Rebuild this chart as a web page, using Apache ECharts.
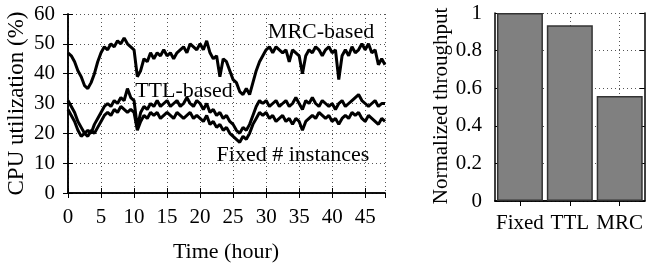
<!DOCTYPE html>
<html><head><meta charset="utf-8">
<script src="https://cdn.jsdelivr.net/npm/echarts@6/dist/echarts.min.js"></script>
<style>html,body{margin:0;padding:0;background:#fff}#c{width:646px;height:265px}</style>
</head><body><div id="c"></div>
<script>
// Left chart: CPU utilization sampled every half hour, 0..48 h
const stepHours = 0.5;
const mrc = [47,46,44,41,39,36,35,37,40,44,47,49,48,50,49,51,50,52,50,49,48,39,41,45,44,47,45,47,46,48,46,47,45,47,48,49,47,50,49,48,50,48,51,47,45,46,39,45,44,41,38,37,34,33,35,33,37,41,44,46,48,49,47,49,48,47,48,44,48,47,46,40,46,48,47,49,48,46,48,49,47,48,38,46,48,46,49,47,48,50,48,50,47,48,43,45,43];
const ttl = [31,29,27,24,22,20,21,20,23,25,27,29,30,29,31,30,32,31,35,32,31,22,27,29,28,30,29,31,29,30,31,29,30,31,29,30,32,30,29,31,30,28,30,27,28,26,27,25,26,24,23,21,20,22,21,23,26,29,31,30,31,29,30,31,29,30,31,29,30,32,30,28,31,30,32,30,29,31,30,29,30,28,30,31,29,30,31,32,33,31,30,29,30,31,29,30,30];
const fixed = [28,26,24,21,19,20,19,21,20,22,24,26,27,26,28,27,29,28,27,28,27,21,24,26,25,27,26,27,25,26,27,26,25,27,26,25,26,27,25,26,25,24,26,23,24,22,23,21,22,20,19,18,17,19,18,20,23,25,27,26,27,25,26,24,25,26,24,25,23,25,24,21,24,25,26,25,27,26,25,26,24,25,23,25,26,25,27,26,27,25,24,26,25,24,23,25,24];
// Right chart
const schemes = ['Fixed','TTL','MRC'];
const throughput = [1.0, 0.935, 0.558];

const pair = arr => arr.map((v,i)=>[i*stepHours, v]);
// helper axis with half-category slots, so grid lines can sit on category centres
const halfSlots = ['', ...schemes.flatMap(s=>[s, ''])];
const FONT = 'Liberation Serif';
const tickStyle = {show:true, inside:true, length:5, lineStyle:{color:'#000', width:1}};
const gridLine = {show:true, lineStyle:{color:'#555', type:[1,3], width:1}};
const axLine = {show:true, lineStyle:{color:'#000', width:1.5}};

const chart = echarts.init(document.getElementById('c'), null, {renderer:'canvas'});
chart.setOption({
  animation:false,
  backgroundColor:'#fff',
  textStyle:{fontFamily:FONT},
  grid:[
    {left:68, top:14, width:317, height:179, show:false},
    {left:495, top:13, width:150, height:188, show:false}
  ],
  xAxis:[
    {type:'value', gridIndex:0, min:0, max:48, interval:5, axisLine:axLine, axisTick:tickStyle,
     axisLabel:{fontFamily:FONT, fontSize:21, color:'#000', margin:14, showMaxLabel:false}, splitLine:gridLine},
    {type:'value', gridIndex:0, position:'top', min:0, max:48, interval:5, axisLine:axLine, axisTick:tickStyle,
     axisLabel:{show:false}, splitLine:{show:false}},
    {type:'category', gridIndex:1, data:schemes, axisLine:axLine,
     axisTick:Object.assign({}, tickStyle, {alignWithLabel:true}),
     axisLabel:{fontFamily:FONT, fontSize:21, color:'#000', margin:12, interval:0},
     splitLine:{show:false}},
    {type:'category', gridIndex:1, position:'top', data:schemes, axisLine:axLine,
     axisTick:Object.assign({}, tickStyle, {alignWithLabel:true}), axisLabel:{show:false}, splitLine:{show:false}},
    {type:'category', gridIndex:1, data:halfSlots, boundaryGap:false, show:true,
     axisLine:{show:false}, axisTick:{show:false}, axisLabel:{show:false},
     splitLine:{show:true, interval:(i)=> i%2===1, lineStyle:{color:'#555', type:[1,3], width:1}}}
  ],
  yAxis:[
    {type:'value', gridIndex:0, min:0, max:60, interval:10, axisLine:axLine, axisTick:tickStyle,
     axisLabel:{fontFamily:FONT, fontSize:21, color:'#000', margin:13}, splitLine:gridLine},
    {type:'value', gridIndex:0, position:'right', min:0, max:60, interval:10, axisLine:axLine, axisTick:tickStyle,
     axisLabel:{show:false}, splitLine:{show:false}},
    {type:'value', gridIndex:1, min:0, max:1, interval:0.2, axisLine:axLine, axisTick:tickStyle,
     axisLabel:{fontFamily:FONT, fontSize:21, color:'#000', margin:13,
       formatter:v=> (v===0||v===1)? String(v) : v.toFixed(1)}, splitLine:gridLine},
    {type:'value', gridIndex:1, position:'right', min:0, max:1, interval:0.2, axisLine:axLine, axisTick:tickStyle,
     axisLabel:{show:false}, splitLine:{show:false}}
  ],
  series:[
    {type:'line', name:'MRC-based', xAxisIndex:0, yAxisIndex:0, data:pair(mrc), showSymbol:false, lineStyle:{color:'#000', width:3}, z:5},
    {type:'line', name:'TTL-based', xAxisIndex:0, yAxisIndex:0, data:pair(ttl), showSymbol:false, lineStyle:{color:'#000', width:3}, z:5},
    {type:'line', name:'Fixed # instances', xAxisIndex:0, yAxisIndex:0, data:pair(fixed), showSymbol:false, lineStyle:{color:'#000', width:3}, z:5},
    {type:'bar', xAxisIndex:2, yAxisIndex:2, data:throughput, barWidth:46,
     itemStyle:{color:'#808080', borderColor:'#333', borderWidth:1.5}, z:5}
  ],
  graphic:[
    {type:'text', x:17, y:103.5, rotation:Math.PI/2, z:10,
     style:{text:'CPU utilization (%)', font:'23px "Liberation Serif"', fill:'#000', align:'center', verticalAlign:'middle'}},
    {type:'text', x:226, y:252, z:10,
     style:{text:'Time (hour)', font:'22px "Liberation Serif"', fill:'#000', align:'center', verticalAlign:'middle'}},
    {type:'text', x:441, y:106, rotation:Math.PI/2, z:10,
     style:{text:'Normalized throughput', font:'21px "Liberation Serif"', fill:'#000', align:'center', verticalAlign:'middle'}},
    {type:'text', x:321, y:32, z:10,
     style:{text:'MRC-based', font:'22px "Liberation Serif"', fill:'#000', align:'center', verticalAlign:'middle'}},
    {type:'text', x:184, y:91, z:10,
     style:{text:'TTL-based', font:'22px "Liberation Serif"', fill:'#000', align:'center', verticalAlign:'middle'}},
    {type:'text', x:293, y:155, z:10,
     style:{text:'Fixed # instances', font:'22px "Liberation Serif"', fill:'#000', align:'center', verticalAlign:'middle'}}
  ]
});
</script></body></html>
